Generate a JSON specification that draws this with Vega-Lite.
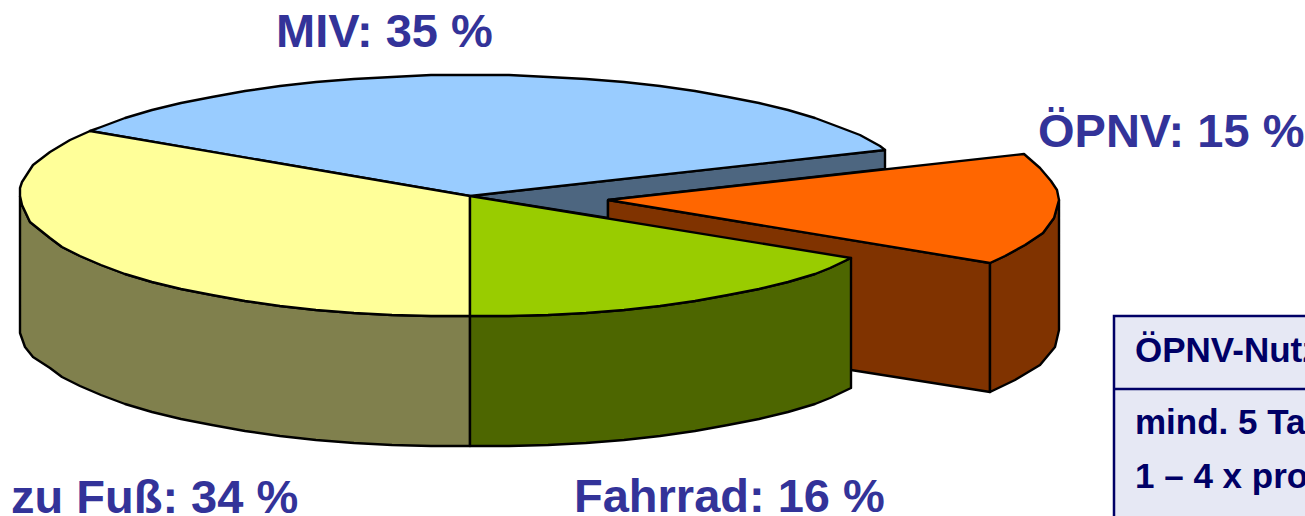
{
"$schema":"https://vega.github.io/schema/vega-lite/v6.json",
"width":1305,"height":516,"padding":0,"autosize":{"type":"none"},
"background":"white",
"config":{"view":{"stroke":null}},
"datasets":{
"shapes":[
{"s":"a_wall_back","o":1,"x":470,"y":196},{"s":"a_wall_back","o":2,"x":885,"y":150},{"s":"a_wall_back","o":3,"x":885,"y":169},{"s":"a_wall_back","o":4,"x":608,"y":200},{"s":"a_wall_back","o":5,"x":608,"y":218},{"s":"a_wall_back","o":6,"x":470,"y":196},
{"s":"b_opnv_face","o":1,"x":608,"y":200},{"s":"b_opnv_face","o":2,"x":990,"y":263},{"s":"b_opnv_face","o":3,"x":990,"y":392},{"s":"b_opnv_face","o":4,"x":851,"y":370},{"s":"b_opnv_face","o":5,"x":608,"y":330},{"s":"b_opnv_face","o":6,"x":608,"y":200},
{"s":"c_opnv_rim","o":1,"x":990,"y":263},{"s":"c_opnv_rim","o":2,"x":1005,"y":256},{"s":"c_opnv_rim","o":3,"x":1025,"y":245},{"s":"c_opnv_rim","o":4,"x":1043,"y":233},{"s":"c_opnv_rim","o":5,"x":1054,"y":218},{"s":"c_opnv_rim","o":6,"x":1059,"y":200},{"s":"c_opnv_rim","o":7,"x":1059,"y":330},{"s":"c_opnv_rim","o":8,"x":1055,"y":347},{"s":"c_opnv_rim","o":9,"x":1040,"y":365},{"s":"c_opnv_rim","o":10,"x":1015,"y":380},{"s":"c_opnv_rim","o":11,"x":990,"y":392},{"s":"c_opnv_rim","o":12,"x":990,"y":263},
{"s":"d_opnv_top","o":1,"x":608,"y":200},{"s":"d_opnv_top","o":2,"x":1024,"y":154},{"s":"d_opnv_top","o":3,"x":1040,"y":168},{"s":"d_opnv_top","o":4,"x":1051,"y":181},{"s":"d_opnv_top","o":5,"x":1057,"y":190},{"s":"d_opnv_top","o":6,"x":1059,"y":200},{"s":"d_opnv_top","o":7,"x":1054,"y":218},{"s":"d_opnv_top","o":8,"x":1043,"y":233},{"s":"d_opnv_top","o":9,"x":1025,"y":245},{"s":"d_opnv_top","o":10,"x":1005,"y":256},{"s":"d_opnv_top","o":11,"x":990,"y":263},{"s":"d_opnv_top","o":12,"x":608,"y":200},
{"s":"e_fuss_wall","o":1,"x":20,"y":196},{"s":"e_fuss_wall","o":2,"x":22,"y":205},{"s":"e_fuss_wall","o":3,"x":30,"y":222},{"s":"e_fuss_wall","o":4,"x":50,"y":238},{"s":"e_fuss_wall","o":5,"x":62,"y":247},{"s":"e_fuss_wall","o":6,"x":80,"y":256},{"s":"e_fuss_wall","o":7,"x":101,"y":265},{"s":"e_fuss_wall","o":8,"x":125,"y":274},{"s":"e_fuss_wall","o":9,"x":152,"y":282},{"s":"e_fuss_wall","o":10,"x":181,"y":289},{"s":"e_fuss_wall","o":11,"x":212,"y":295},{"s":"e_fuss_wall","o":12,"x":245,"y":301},{"s":"e_fuss_wall","o":13,"x":280,"y":306},{"s":"e_fuss_wall","o":14,"x":316,"y":310},{"s":"e_fuss_wall","o":15,"x":354,"y":313},{"s":"e_fuss_wall","o":16,"x":392,"y":315},{"s":"e_fuss_wall","o":17,"x":431,"y":316},{"s":"e_fuss_wall","o":18,"x":470,"y":316},{"s":"e_fuss_wall","o":19,"x":470,"y":446},{"s":"e_fuss_wall","o":20,"x":431,"y":446},{"s":"e_fuss_wall","o":21,"x":392,"y":445},{"s":"e_fuss_wall","o":22,"x":354,"y":443},{"s":"e_fuss_wall","o":23,"x":316,"y":440},{"s":"e_fuss_wall","o":24,"x":280,"y":436},{"s":"e_fuss_wall","o":25,"x":245,"y":431},{"s":"e_fuss_wall","o":26,"x":212,"y":425},{"s":"e_fuss_wall","o":27,"x":181,"y":419},{"s":"e_fuss_wall","o":28,"x":152,"y":412},{"s":"e_fuss_wall","o":29,"x":125,"y":404},{"s":"e_fuss_wall","o":30,"x":101,"y":395},{"s":"e_fuss_wall","o":31,"x":80,"y":386},{"s":"e_fuss_wall","o":32,"x":62,"y":377},{"s":"e_fuss_wall","o":33,"x":50,"y":368},{"s":"e_fuss_wall","o":34,"x":33,"y":357},{"s":"e_fuss_wall","o":35,"x":25,"y":347},{"s":"e_fuss_wall","o":36,"x":20,"y":333},{"s":"e_fuss_wall","o":37,"x":20,"y":196},
{"s":"f_rad_wall","o":1,"x":470,"y":316},{"s":"f_rad_wall","o":2,"x":509,"y":316},{"s":"f_rad_wall","o":3,"x":548,"y":315},{"s":"f_rad_wall","o":4,"x":586,"y":313},{"s":"f_rad_wall","o":5,"x":624,"y":310},{"s":"f_rad_wall","o":6,"x":660,"y":306},{"s":"f_rad_wall","o":7,"x":695,"y":301},{"s":"f_rad_wall","o":8,"x":728,"y":295},{"s":"f_rad_wall","o":9,"x":759,"y":289},{"s":"f_rad_wall","o":10,"x":788,"y":282},{"s":"f_rad_wall","o":11,"x":815,"y":274},{"s":"f_rad_wall","o":12,"x":830,"y":268},{"s":"f_rad_wall","o":13,"x":851,"y":258},{"s":"f_rad_wall","o":14,"x":851,"y":388},{"s":"f_rad_wall","o":15,"x":830,"y":398},{"s":"f_rad_wall","o":16,"x":815,"y":404},{"s":"f_rad_wall","o":17,"x":788,"y":412},{"s":"f_rad_wall","o":18,"x":759,"y":419},{"s":"f_rad_wall","o":19,"x":728,"y":425},{"s":"f_rad_wall","o":20,"x":695,"y":431},{"s":"f_rad_wall","o":21,"x":660,"y":436},{"s":"f_rad_wall","o":22,"x":624,"y":440},{"s":"f_rad_wall","o":23,"x":586,"y":443},{"s":"f_rad_wall","o":24,"x":548,"y":445},{"s":"f_rad_wall","o":25,"x":509,"y":446},{"s":"f_rad_wall","o":26,"x":470,"y":446},{"s":"f_rad_wall","o":27,"x":470,"y":316},
{"s":"g_miv_top","o":1,"x":470,"y":196},{"s":"g_miv_top","o":2,"x":885,"y":150},{"s":"g_miv_top","o":3,"x":880,"y":146},{"s":"g_miv_top","o":4,"x":860,"y":135},{"s":"g_miv_top","o":5,"x":839,"y":127},{"s":"g_miv_top","o":6,"x":815,"y":118},{"s":"g_miv_top","o":7,"x":788,"y":110},{"s":"g_miv_top","o":8,"x":759,"y":103},{"s":"g_miv_top","o":9,"x":728,"y":97},{"s":"g_miv_top","o":10,"x":695,"y":91},{"s":"g_miv_top","o":11,"x":660,"y":86},{"s":"g_miv_top","o":12,"x":624,"y":82},{"s":"g_miv_top","o":13,"x":586,"y":79},{"s":"g_miv_top","o":14,"x":548,"y":77},{"s":"g_miv_top","o":15,"x":509,"y":75},{"s":"g_miv_top","o":16,"x":470,"y":75},{"s":"g_miv_top","o":17,"x":431,"y":75},{"s":"g_miv_top","o":18,"x":392,"y":77},{"s":"g_miv_top","o":19,"x":354,"y":79},{"s":"g_miv_top","o":20,"x":316,"y":82},{"s":"g_miv_top","o":21,"x":280,"y":86},{"s":"g_miv_top","o":22,"x":245,"y":91},{"s":"g_miv_top","o":23,"x":212,"y":97},{"s":"g_miv_top","o":24,"x":181,"y":103},{"s":"g_miv_top","o":25,"x":152,"y":110},{"s":"g_miv_top","o":26,"x":125,"y":118},{"s":"g_miv_top","o":27,"x":101,"y":127},{"s":"g_miv_top","o":28,"x":90,"y":131},{"s":"g_miv_top","o":29,"x":470,"y":196},
{"s":"h_fuss_top","o":1,"x":470,"y":196},{"s":"h_fuss_top","o":2,"x":90,"y":131},{"s":"h_fuss_top","o":3,"x":70,"y":140},{"s":"h_fuss_top","o":4,"x":50,"y":152},{"s":"h_fuss_top","o":5,"x":33,"y":165},{"s":"h_fuss_top","o":6,"x":22,"y":182},{"s":"h_fuss_top","o":7,"x":20,"y":188},{"s":"h_fuss_top","o":8,"x":20,"y":196},{"s":"h_fuss_top","o":9,"x":22,"y":205},{"s":"h_fuss_top","o":10,"x":30,"y":222},{"s":"h_fuss_top","o":11,"x":50,"y":238},{"s":"h_fuss_top","o":12,"x":62,"y":247},{"s":"h_fuss_top","o":13,"x":80,"y":256},{"s":"h_fuss_top","o":14,"x":101,"y":265},{"s":"h_fuss_top","o":15,"x":125,"y":274},{"s":"h_fuss_top","o":16,"x":152,"y":282},{"s":"h_fuss_top","o":17,"x":181,"y":289},{"s":"h_fuss_top","o":18,"x":212,"y":295},{"s":"h_fuss_top","o":19,"x":245,"y":301},{"s":"h_fuss_top","o":20,"x":280,"y":306},{"s":"h_fuss_top","o":21,"x":316,"y":310},{"s":"h_fuss_top","o":22,"x":354,"y":313},{"s":"h_fuss_top","o":23,"x":392,"y":315},{"s":"h_fuss_top","o":24,"x":431,"y":316},{"s":"h_fuss_top","o":25,"x":470,"y":316},{"s":"h_fuss_top","o":26,"x":470,"y":196},
{"s":"i_rad_top","o":1,"x":470,"y":196},{"s":"i_rad_top","o":2,"x":470,"y":316},{"s":"i_rad_top","o":3,"x":509,"y":316},{"s":"i_rad_top","o":4,"x":548,"y":315},{"s":"i_rad_top","o":5,"x":586,"y":313},{"s":"i_rad_top","o":6,"x":624,"y":310},{"s":"i_rad_top","o":7,"x":660,"y":306},{"s":"i_rad_top","o":8,"x":695,"y":301},{"s":"i_rad_top","o":9,"x":728,"y":295},{"s":"i_rad_top","o":10,"x":759,"y":289},{"s":"i_rad_top","o":11,"x":788,"y":282},{"s":"i_rad_top","o":12,"x":815,"y":274},{"s":"i_rad_top","o":13,"x":830,"y":268},{"s":"i_rad_top","o":14,"x":851,"y":258},{"s":"i_rad_top","o":15,"x":470,"y":196}
],
"labels":[
{"t":"MIV: 35 %","x":276,"y":47},
{"t":"ÖPNV: 15 %","x":1038,"y":147},
{"t":"zu Fuß: 34 %","x":11,"y":513},
{"t":"Fahrrad: 16 %","x":574,"y":512}
],
"table":[{"x":1114,"x2":1330,"y":316,"y2":560}],
"tableLine":[{"x":1114,"x2":1330,"y":389}],
"tableText":[
{"t":"ÖPNV-Nutzung","x":1135,"y":362},
{"t":"mind. 5 Tage pro Woche","x":1135,"y":434},
{"t":"1 – 4 x pro Woche","x":1135,"y":488},
{"t":"1 – 3 x pro Monat","x":1135,"y":541}
]
},
"layer":[
{"data":{"name":"table"},"mark":{"type":"rect","fill":"#E6E8F4","stroke":"#000066","strokeWidth":2.5},
 "encoding":{"x":{"field":"x","type":"quantitative","scale":{"domain":[0,1305]},"axis":null},"x2":{"field":"x2"},"y":{"field":"y","type":"quantitative","scale":{"domain":[516,0]},"axis":null},"y2":{"field":"y2"}}},
{"data":{"name":"tableLine"},"mark":{"type":"rule","stroke":"#000066","strokeWidth":2.5},
 "encoding":{"x":{"field":"x","type":"quantitative","scale":{"domain":[0,1305]},"axis":null},"x2":{"field":"x2"},"y":{"field":"y","type":"quantitative","scale":{"domain":[516,0]},"axis":null}}},
{"data":{"name":"tableText"},"mark":{"type":"text","align":"left","baseline":"alphabetic","font":"Liberation Sans","fontWeight":"bold","fontSize":35,"fill":"#000066"},
 "encoding":{"x":{"field":"x","type":"quantitative","scale":{"domain":[0,1305]},"axis":null},"y":{"field":"y","type":"quantitative","scale":{"domain":[516,0]},"axis":null},"text":{"field":"t"}}},
{"data":{"name":"shapes"},"mark":{"type":"line","stroke":"black","strokeWidth":2.4,"strokeJoin":"round","clip":false},
 "encoding":{
  "x":{"field":"x","type":"quantitative","scale":{"domain":[0,1305]},"axis":null},
  "y":{"field":"y","type":"quantitative","scale":{"domain":[516,0]},"axis":null},
  "order":{"field":"o","type":"quantitative"},
  "detail":{"field":"s"},
  "fill":{"field":"s","type":"nominal","legend":null,"scale":{"domain":["a_wall_back","b_opnv_face","c_opnv_rim","d_opnv_top","e_fuss_wall","f_rad_wall","g_miv_top","h_fuss_top","i_rad_top"],"range":["#4D6680","#803300","#803300","#FF6600","#80804D","#4D6600","#99CCFF","#FFFF99","#99CC00"]}}
 }},
{"data":{"name":"labels"},"mark":{"type":"text","align":"left","baseline":"alphabetic","font":"Liberation Sans","fontWeight":"bold","fontSize":47,"fill":"#333399"},
 "encoding":{"x":{"field":"x","type":"quantitative","scale":{"domain":[0,1305]},"axis":null},"y":{"field":"y","type":"quantitative","scale":{"domain":[516,0]},"axis":null},"text":{"field":"t"}}}
]
}
